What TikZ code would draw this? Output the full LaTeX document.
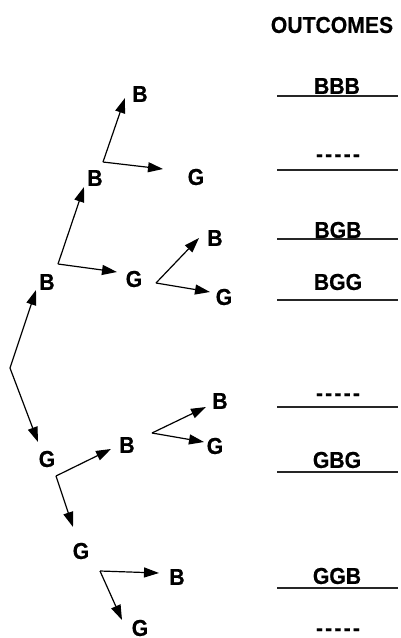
\documentclass[tikz,border=0pt]{standalone}
\usepackage{fontspec}
\setmainfont{Liberation Sans}[FakeStretch=0.92, BoldFeatures={FakeBold=0.5}]
\usetikzlibrary{arrows.meta}
\newcommand{\dsh}{{-}\kern2.2pt{-}\kern2.2pt{-}\kern2.2pt{-}\kern2.2pt{-}}
\begin{document}
\begin{tikzpicture}[x=1pt,y=-1pt,
  lbl/.style={font=\fontsize{23}{26}\selectfont\bfseries, inner sep=0pt, anchor=center},
  arr/.style={line width=1.2pt, -{Triangle[length=15pt,width=10pt]}},
  rule/.style={line width=1.2pt, draw=black!85}]
\useasboundingbox (0,0) rectangle (401,638);
% outcomes column
\node[lbl] (head) at (332,25) {OUTCOMES};
\node[lbl] (o1) at (337,86) {BBB};
\node[lbl] (o2) at (338,158) {\dsh};
\node[lbl] (o3) at (338,230) {BGB};
\node[lbl] (o4) at (338,282) {BGG};
\node[lbl] (o5) at (338,397) {\dsh};
\node[lbl] (o6) at (337,460) {GBG};
\node[lbl] (o7) at (337,576) {GGB};
\node[lbl] (o8) at (338,632) {\dsh};
\foreach \y [count=\i] in {96,170,239,300,407,472,588}
  {\coordinate (la\i) at (277,\y); \coordinate (lb\i) at (398,\y); \draw[rule] (la\i) -- (lb\i);}
% tree labels
\node[lbl] (b1) at (47,282) {B};
\node[lbl] (g1) at (47,459) {G};
\node[lbl] (bb) at (95,178) {B};
\node[lbl] (bg) at (134,279) {G};
\node[lbl] (gb) at (127,445) {B};
\node[lbl] (gg) at (81,551) {G};
\node[lbl] (bbb) at (140,94) {B};
\node[lbl] (bbg) at (196,177) {G};
\node[lbl] (bgb) at (215,238) {B};
\node[lbl] (bgg) at (224,297) {G};
\node[lbl] (gbb) at (220,401) {B};
\node[lbl] (gbg) at (215,446) {G};
\node[lbl] (ggb) at (177,577) {B};
\node[lbl] (ggg) at (140,628) {G};
% fork points
\coordinate (r) at (10,368);
\coordinate (fb1) at (58,264);
\coordinate (fbb) at (103,162);
\coordinate (fbg) at (156,283);
\coordinate (fg1) at (56,476);
\coordinate (fgb) at (152,433);
\coordinate (fgg) at (100,571);
% arrow tips
\coordinate (tb1) at (36,290);
\coordinate (tg1) at (38,442);
\coordinate (tbb) at (84,187);
\coordinate (tbg) at (117,272);
\coordinate (tbbb) at (125,98);
\coordinate (tbbg) at (163,169);
\coordinate (tbgb) at (199,238);
\coordinate (tbgg) at (210,292);
\coordinate (tgb) at (111,449);
\coordinate (tgg) at (73,527);
\coordinate (tgbb) at (206,407);
\coordinate (tgbg) at (204,442);
\coordinate (tggb) at (159,573);
\coordinate (tggg) at (122,620);
\foreach \a/\b in {r/tb1, r/tg1, fb1/tbb, fb1/tbg, fbb/tbbb, fbb/tbbg, fbg/tbgb, fbg/tbgg,
  fg1/tgb, fg1/tgg, fgb/tgbb, fgb/tgbg, fgg/tggb, fgg/tggg}
  \draw[arr] (\a) -- (\b);
\end{tikzpicture}
\end{document}
